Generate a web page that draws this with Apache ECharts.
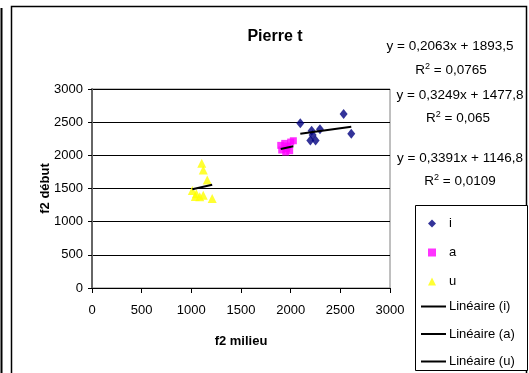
<!DOCTYPE html>
<html>
<head>
<meta charset="utf-8">
<script src="https://cdn.jsdelivr.net/npm/echarts@6/dist/echarts.min.js"></script>
<style>
  html, body { margin: 0; padding: 0; background: #fff; }
  #main { width: 529px; height: 373px; }
</style>
</head>
<body>
<div id="main"></div>
<script>
// data: [f2 milieu, f2 début]
var pointsI = [[2097, 2484], [2533, 2624], [2610, 2327], [2211, 2372], [2295, 2393], [2198, 2222], [2251, 2222], [2221, 2307]];
var pointsA = [[1900, 2150], [1910, 2080], [1950, 2050], [1960, 2100], [1990, 2070], [2000, 2200], [2027, 2220], [1940, 2180], [1970, 2140]];
var pointsU = [[1105, 1880], [1120, 1780], [1160, 1630], [1010, 1470], [1050, 1420], [1085, 1375], [1120, 1400], [1210, 1350], [1040, 1380]];

// trend lines (slope, intercept, R2) as printed on the chart
var trendI = [0.2063, 1893.5, '0,0765'];
var trendA = [0.3249, 1477.8, '0,065'];
var trendU = [0.3391, 1146.8, '0,0109'];

var axisTicks = [0, 500, 1000, 1500, 2000, 2500, 3000];

function trendLine(pts, t) {
    var xs = pts.map(function (p) { return p[0]; });
    var x0 = Math.min.apply(null, xs), x1 = Math.max.apply(null, xs);
    return [[x0, t[0] * x0 + t[1]], [x1, t[0] * x1 + t[1]]];
}

function eqText(t) {
    return 'y = ' + String(t[0]).replace('.', ',') + 'x + ' + String(t[1]).replace('.', ',');
}

var font = 'Liberation Sans, Arial, sans-serif';
var myChart = echarts.init(document.getElementById('main'));
var lineIcon = 'rect';

var option = {
    backgroundColor: '#fff',
    animation: false,
    textStyle: { fontFamily: font },
    title: {
        text: 'Pierre t',
        left: 270, top: 24,
        textAlign: 'center',
        textStyle: { fontFamily: font, fontSize: 16, fontWeight: 'bold', color: '#000' }
    },
    grid: {
        left: 92, top: 89, right: 139, bottom: 85,
        show: true, borderColor: '#808080', borderWidth: 1
    },
    legend: [{
        orient: 'vertical',
        left: 428, top: 217, padding: 0,
        itemWidth: 8, itemHeight: 8,
        itemGap: 16,
        textStyle: { fontFamily: font, fontSize: 13, color: '#000', padding: [0, 0, 0, 8] },
        data: ['i', 'a', 'u']
    }, {
        orient: 'vertical',
        left: 421, top: 300, padding: 0,
        itemWidth: 25, itemHeight: 2,
        itemGap: 14.5,
        textStyle: { fontFamily: font, fontSize: 13, color: '#000', padding: [0, 0, 0, -2] },
        data: [
            { name: 'Linéaire (i)', icon: lineIcon },
            { name: 'Linéaire (a)', icon: lineIcon },
            { name: 'Linéaire (u)', icon: lineIcon }
        ]
    }],
    xAxis: {
        type: 'value', min: axisTicks[0], max: axisTicks[axisTicks.length - 1], interval: 500,
        name: 'f2 milieu', nameLocation: 'middle', nameGap: 47, nameMoveOverlap: false,
        nameTextStyle: { fontFamily: font, fontSize: 13, fontWeight: 'bold', color: '#000' },
        axisLine: { show: true, lineStyle: { color: '#000', width: 1 } },
        axisTick: { show: true, length: 5, lineStyle: { color: '#000' } },
        axisLabel: { fontFamily: font, fontSize: 13, color: '#000', margin: 16, formatter: function (v) { return String(v); } },
        splitLine: { show: false }
    },
    yAxis: {
        type: 'value', min: axisTicks[0], max: axisTicks[axisTicks.length - 1], interval: 500,
        name: 'f2 début', nameLocation: 'middle', nameGap: 40, nameMoveOverlap: false,
        nameTextStyle: { fontFamily: font, fontSize: 13, fontWeight: 'bold', color: '#000' },
        axisLine: { show: true, lineStyle: { color: '#666', width: 2 } },
        axisTick: { show: true, length: 4, lineStyle: { color: '#000' } },
        axisLabel: { fontFamily: font, fontSize: 13, color: '#000', margin: 9, formatter: function (v) { return String(v); } },
        splitLine: { show: true, lineStyle: { color: '#000', width: 1 } }
    },
    series: [{
        name: 'i', type: 'scatter', symbol: 'diamond', symbolSize: [8, 10],
        itemStyle: { color: '#000080' }, data: pointsI
    }, {
        name: 'a', type: 'scatter', symbol: 'rect', symbolSize: 7,
        itemStyle: { color: '#FF00FF' }, data: pointsA
    }, {
        name: 'u', type: 'scatter', symbol: 'triangle', symbolSize: 9,
        itemStyle: { color: '#FFFF00' }, data: pointsU
    }, {
        name: 'Linéaire (i)', type: 'line', symbol: 'none',
        lineStyle: { color: '#000', width: 2 }, itemStyle: { color: '#000' },
        data: trendLine(pointsI, trendI)
    }, {
        name: 'Linéaire (a)', type: 'line', symbol: 'none',
        lineStyle: { color: '#000', width: 2 }, itemStyle: { color: '#000' },
        data: trendLine(pointsA, trendA)
    }, {
        name: 'Linéaire (u)', type: 'line', symbol: 'none',
        lineStyle: { color: '#000', width: 2 }, itemStyle: { color: '#000' },
        data: trendLine(pointsU, trendU)
    }],
    graphic: [
        // outer frame and left edge line
        { type: 'rect', shape: { x: 11.5, y: 6.5, width: 515, height: 380 }, z: -10,
          style: { fill: null, stroke: '#000', lineWidth: 1.5 } },
        { type: 'line', shape: { x1: 1.5, y1: 8, x2: 1.5, y2: 373 },
          style: { stroke: '#000', lineWidth: 2 } },
        // legend box
        { type: 'rect', shape: { x: 415.5, y: 205.5, width: 112, height: 165 }, z: -5,
          style: { fill: '#fff', stroke: '#000', lineWidth: 1 } },
        // equations
        { type: 'text', x: 450, y: 46, style: { text: eqText(trendI), font: '13.5px ' + font, fill: '#000', textAlign: 'center', textVerticalAlign: 'middle' } },
        { type: 'text', x: 451, y: 70, style: { text: 'R{s|2} = ' + trendI[2], font: '13.5px ' + font, fill: '#000', textAlign: 'center', textVerticalAlign: 'middle',
            rich: { s: { fontSize: 9, fontFamily: font, verticalAlign: 'top', padding: [0, 0, 6, 0] } } } },
        { type: 'text', x: 460, y: 95, style: { text: eqText(trendA), font: '13.5px ' + font, fill: '#000', textAlign: 'center', textVerticalAlign: 'middle' } },
        { type: 'text', x: 458, y: 118, style: { text: 'R{s|2} = ' + trendA[2], font: '13.5px ' + font, fill: '#000', textAlign: 'center', textVerticalAlign: 'middle',
            rich: { s: { fontSize: 9, fontFamily: font, verticalAlign: 'top', padding: [0, 0, 6, 0] } } } },
        { type: 'text', x: 460, y: 158, style: { text: eqText(trendU), font: '13.5px ' + font, fill: '#000', textAlign: 'center', textVerticalAlign: 'middle' } },
        { type: 'text', x: 460, y: 181, style: { text: 'R{s|2} = ' + trendU[2], font: '13.5px ' + font, fill: '#000', textAlign: 'center', textVerticalAlign: 'middle',
            rich: { s: { fontSize: 9, fontFamily: font, verticalAlign: 'top', padding: [0, 0, 6, 0] } } } }
    ]
};

myChart.setOption(option);
</script>
</body>
</html>
